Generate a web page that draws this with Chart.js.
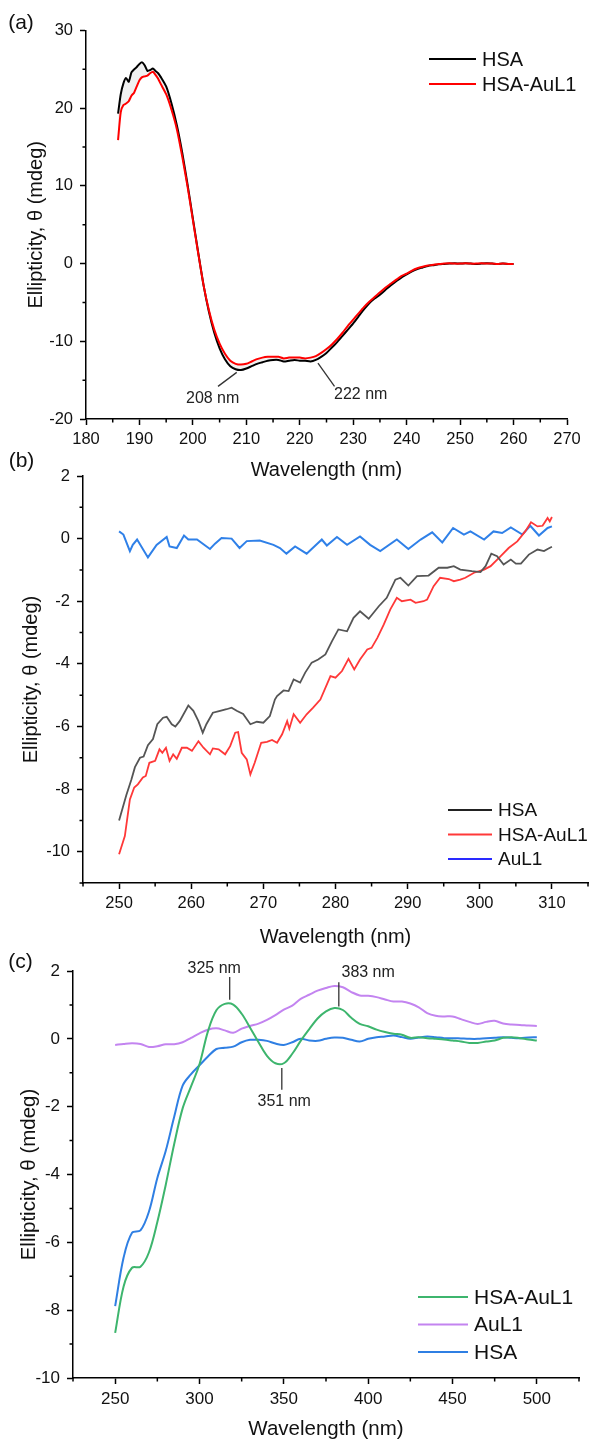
<!DOCTYPE html>
<html>
<head>
<meta charset="utf-8">
<title>CD spectra</title>
<script src="https://cdn.jsdelivr.net/npm/chart.js@4.4.1/dist/chart.umd.min.js"></script>
<style>
	html, body { margin: 0; padding: 0; background: #fff; }
	#page { position: relative; width: 590px; height: 1442px; }
	#page canvas { position: absolute; left: 0; top: 0; }
</style>
</head>
<body>
<div id="page">
	<canvas id="chartA" width="590" height="1442"></canvas>
	<canvas id="chartB" width="590" height="1442"></canvas>
	<canvas id="chartC" width="590" height="1442"></canvas>
</div>
<script>
// ---- panel (a): far-UV CD ----
const aWave = [186,186.5,187,187.5,188,188.5,189,189.5,190,190.5,191,191.5,192,192.5,193,193.5,194,
	195,196,197,198,199,200,201,202,203,204,205,206,207,208,209,210,211,212,213,214,
	215,216,217,218,219,220,221,222,223,224,225,226,227,228,229,230,231,232,233,234,
	235,236,237,238,239,240,241,242,243,244,245,246,247,248,249,250,251,252,253,254,
	255,256,257,258,259,260];
const aHsa = [19.3,21.8,23.2,23.9,23.4,24.6,25.0,25.3,25.7,25.9,25.5,24.8,24.9,25.1,24.8,24.5,24.0,
	22.8,20.6,17.8,14.3,10.2,5.8,1.4,-2.8,-6.2,-8.9,
	-10.9,-12.3,-13.2,-13.6,-13.7,-13.5,-13.2,-12.9,-12.7,-12.5,
	-12.4,-12.4,-12.6,-12.5,-12.4,-12.5,-12.5,-12.6,-12.4,-12.0,
	-11.5,-10.8,-10.1,-9.3,-8.5,-7.7,-6.8,-5.9,-5.1,-4.5,
	-4.0,-3.4,-2.8,-2.3,-1.8,-1.4,-1.0,-0.7,-0.5,-0.3,
	-0.2,-0.1,-0.05,0.0,0.05,0.0,0.05,0.0,-0.05,0.0,
	0.05,0.0,-0.05,0.0,-0.05,-0.05];
const aHsaAuL1 = [15.9,19.5,20.4,20.6,20.9,21.6,22.0,22.8,23.6,24.0,24.1,24.2,24.5,24.7,24.3,23.8,23.1,
	21.8,19.8,17.3,13.8,9.9,5.6,1.3,-2.8,-6.0,-8.5,
	-10.3,-11.6,-12.5,-12.9,-13.0,-12.9,-12.6,-12.3,-12.1,-12.0,
	-12.0,-12.0,-12.2,-12.1,-12.1,-12.1,-12.2,-12.1,-11.9,-11.5,
	-11.0,-10.4,-9.7,-8.9,-8.0,-7.2,-6.4,-5.6,-4.9,-4.3,
	-3.7,-3.1,-2.6,-2.1,-1.6,-1.3,-0.9,-0.6,-0.4,-0.25,
	-0.15,-0.05,0.0,0.05,0.0,0.0,0.05,0.0,0.0,0.05,
	0.0,0.0,-0.05,0.0,-0.05,-0.05];
const aXTicks = [180,190,200,210,220,230,240,250,260,270];
const aXMinor = [185,195,205,215,225,235,245,255,265];
const aYTicks = [-20,-10,0,10,20,30];
const aYMinor = [-15,-5,5,15,25];

// ---- panel (b): near-UV CD ----
const bHsaNm = [250,251,251.7,252.2,252.9,253.4,254,254.7,255.3,256.1,256.6,257.3,257.8,258.4,259.6,260.3,261,261.6,262.1,263,
	264,264.9,265.6,266.3,267.2,268.2,269.1,270,270.9,271.6,271.9,272.8,273.5,274.2,275.1,275.8,276.7,277.6,278.6,279.5,
	280.4,281.6,282.5,283.4,284.6,286,287.1,288.3,289,290.1,291.3,292.9,294.3,295.5,296.4,297.3,298.9,300.1,300.8,301.6,
	302.4,303.3,304.3,305,305.7,306.8,308,308.9,309.4,310];
const bHsa = [-9.0,-8.2,-7.7,-7.3,-7.0,-6.96,-6.6,-6.4,-5.93,-5.72,-5.69,-5.93,-6.0,-5.83,-5.33,-5.5,-5.83,-6.2,-5.93,-5.56,
	-5.5,-5.45,-5.4,-5.5,-5.6,-5.93,-5.85,-5.88,-5.67,-5.14,-5.03,-4.85,-4.87,-4.5,-4.6,-4.28,-3.96,-3.86,-3.7,-3.28,
	-2.9,-2.96,-2.53,-2.32,-2.56,-2.16,-1.89,-1.31,-1.25,-1.5,-1.2,-1.18,-0.93,-0.93,-0.88,-0.99,-1.04,-1.07,-0.88,-0.48,
	-0.56,-0.83,-0.67,-0.8,-0.8,-0.51,-0.35,-0.4,-0.33,-0.26];
const bMixNm = [250,250.8,251.5,252.1,252.6,253.3,253.7,254.2,255,255.6,256,256.5,257,257.5,258,258.7,259.4,260.1,261,261.7,
	262.6,263,263.8,264.7,265.4,266.1,266.5,267,267.7,268.2,268.8,269.7,270.5,271.2,271.9,272.6,273.3,273.6,274.2,275.1,
	276,276.9,277.9,279.3,280,280.9,281.8,282.6,283.4,284.4,285,285.8,286.7,287.6,288.5,289.2,290.4,291.1,292.2,292.7,
	293.6,294.5,295.7,296.4,297.3,298,299.2,300.6,301.5,302.9,304,305.2,306.3,307.1,308,308.7,309.4,309.7,310];
const bMix = [-10.08,-9.5,-8.33,-7.95,-7.85,-7.63,-7.58,-7.16,-7.1,-6.73,-6.84,-6.68,-7.1,-6.89,-7.03,-6.68,-6.68,-6.78,-6.47,-6.68,
	-6.89,-6.7,-6.73,-6.89,-6.63,-6.2,-6.18,-6.84,-7.05,-7.53,-7.16,-6.52,-6.49,-6.43,-6.52,-6.25,-5.83,-6.07,-5.61,-5.88,
	-5.61,-5.4,-5.14,-4.39,-4.44,-4.23,-3.84,-4.18,-3.86,-3.54,-3.49,-3.17,-2.74,-2.26,-1.89,-2.0,-1.95,-2.05,-2.0,-1.95,
	-1.52,-1.25,-1.29,-1.36,-1.31,-1.25,-1.09,-0.99,-0.88,-0.56,-0.3,-0.09,0.23,0.52,0.39,0.41,0.66,0.55,0.69];
const bAuNm = [250,250.6,251.5,251.9,252.5,254,255.2,256.6,257,258,259,259.6,260.8,262.6,263.3,264.2,265.6,266.7,267.7,269.5,
	271.4,272.3,273.2,274.4,276,278.1,278.8,280.2,281.6,283.4,284.8,286.2,288.5,290.1,291.8,293.4,294.8,296.3,297.8,298.7,
	300.6,301.9,303.1,304.3,305.9,307,308.2,309.4,310];
const bAu = [0.23,0.13,-0.4,-0.2,-0.03,-0.6,-0.2,0.05,-0.25,-0.3,0.1,-0.03,-0.03,-0.33,-0.16,0.02,0.0,-0.3,-0.08,-0.06,
	-0.2,-0.3,-0.48,-0.25,-0.48,-0.03,-0.22,0.05,-0.2,0.07,-0.2,-0.4,-0.03,-0.33,-0.03,0.2,-0.12,0.34,0.13,0.23,
	-0.03,0.23,0.18,0.36,0.13,0.41,0.1,0.34,0.39];
const bXTicks = [250,260,270,280,290,300,310];
const bXMinor = [245,255,265,275,285,295,305,315];
const bYTicks = [-10,-8,-6,-4,-2,0,2];
const bYMinor = [-11,-9,-7,-5,-3,-1,1];

// ---- panel (c): visible CD ----
const cWave = [250,255,260,265,270,275,280,285,290,295,300,305,310,315,320,325,330,335,340,345,
	350,355,360,365,370,375,380,385,390,395,400,405,410,415,420,425,430,435,440,445,
	450,455,460,465,470,475,480,485,490,495,500];
const cMix = [-8.67,-7.3,-6.75,-6.72,-6.3,-5.4,-4.3,-3.1,-2.05,-1.4,-0.75,0.22,0.84,1.03,1.01,0.74,0.33,-0.1,-0.5,-0.72,
	-0.72,-0.44,-0.06,0.28,0.6,0.81,0.91,0.85,0.62,0.44,0.37,0.27,0.2,0.15,0.12,0.03,0.05,0.02,0.0,-0.02,
	-0.05,-0.08,-0.12,-0.12,-0.08,-0.05,0.03,0.05,0.02,-0.02,-0.05];
const cAu = [-0.18,-0.15,-0.13,-0.15,-0.24,-0.22,-0.16,-0.16,-0.1,0.03,0.16,0.27,0.31,0.25,0.18,0.3,0.38,0.45,0.56,0.7,
	0.86,0.98,1.18,1.3,1.42,1.5,1.56,1.52,1.38,1.28,1.27,1.23,1.16,1.1,1.1,1.04,0.93,0.76,0.68,0.66,
	0.66,0.58,0.5,0.44,0.5,0.53,0.45,0.42,0.41,0.39,0.38];
const cHsa = [-7.88,-6.45,-5.72,-5.65,-5.1,-4.1,-3.3,-2.3,-1.38,-1.04,-0.78,-0.52,-0.3,-0.26,-0.23,-0.1,-0.03,-0.03,-0.06,-0.14,
	-0.18,-0.1,0.0,-0.05,-0.06,0.0,0.04,0.03,-0.03,-0.08,0.0,0.05,0.07,0.1,0.05,0.0,0.04,0.07,0.05,0.02,
	0.02,0.01,0.0,0.0,0.02,0.03,0.05,0.03,0.02,0.04,0.05];
const cXTicks = [250,300,350,400,450,500];
const cXMinor = [225,275,325,375,425,475,525];
const cYTicks = [-10,-8,-6,-4,-2,0,2];
const cYMinor = [-9,-7,-5,-3,-1,1];

const FONT = '"Liberation Sans", Arial, Helvetica, sans-serif';
Chart.defaults.font.family = FONT;
Chart.defaults.color = '#111';

function pts(xs, ys){
	return xs.map((x, i) => ({x: x, y: ys[i]}));
}

// small ticks between the labelled ones
const minorTicks = {
	id: 'minorTicks',
	afterDraw: (chart, args, opts) => {
		const {ctx, chartArea, scales} = chart;
		ctx.save();
		ctx.strokeStyle = '#000';
		ctx.lineWidth = 1.5;
		ctx.beginPath();
		opts.x.forEach(v => {
			const px = scales.x.getPixelForValue(v);
			ctx.moveTo(px, chartArea.bottom);
			ctx.lineTo(px, chartArea.bottom + opts.len);
		});
		opts.y.forEach(v => {
			const py = scales.y.getPixelForValue(v);
			ctx.moveTo(chartArea.left, py);
			ctx.lineTo(chartArea.left - opts.len, py);
		});
		ctx.stroke();
		ctx.restore();
	}
};

// peak labels with leader lines
const notes = {
	id: 'notes',
	afterDatasetsDraw: (chart, args, opts) => {
		const {ctx, scales} = chart;
		const x = scales.x, y = scales.y;
		ctx.save();
		ctx.font = '16px ' + FONT;
		ctx.fillStyle = '#222';
		ctx.strokeStyle = '#333';
		ctx.lineWidth = 1.3;
		ctx.textAlign = 'center';
		ctx.textBaseline = 'middle';
		opts.items.forEach(n => {
			ctx.beginPath();
			ctx.moveTo(x.getPixelForValue(n.from[0]), y.getPixelForValue(n.from[1]));
			ctx.lineTo(x.getPixelForValue(n.to[0]), y.getPixelForValue(n.to[1]));
			ctx.stroke();
			ctx.fillText(n.text, x.getPixelForValue(n.at[0]), y.getPixelForValue(n.at[1]));
		});
		ctx.restore();
	}
};

// legend box drawn inside the plot, plus the panel letter
const sideLegend = {
	id: 'sideLegend',
	afterDraw: (chart, args, opts) => {
		const {ctx} = chart;
		ctx.save();
		ctx.textBaseline = 'middle';
		ctx.textAlign = 'left';
		ctx.font = opts.size + 'px ' + FONT;
		ctx.lineWidth = 2;
		chart.data.datasets.forEach((ds, i) => {
			const yy = opts.top + i * opts.step;
			ctx.strokeStyle = ds.legendColor || ds.borderColor;
			ctx.beginPath();
			ctx.moveTo(opts.x1, yy);
			ctx.lineTo(opts.x2, yy);
			ctx.stroke();
			ctx.fillStyle = '#111';
			ctx.fillText(ds.label, opts.x2 + 6, yy + 1);
		});
		ctx.font = '21px ' + FONT;
		ctx.textAlign = 'center';
		ctx.fillText(opts.tag, opts.tagX, opts.tagY);
		ctx.restore();
	}
};

function axes(p){
	const tickFont = {size: p.tickSize};
	return {
		x: {
			type: 'linear', min: p.xMin, max: p.xMax,
			afterBuildTicks: s => { s.ticks = p.xTicks.map(v => ({value: v})); },
			afterFit: s => { s.height = p.xH; },
			ticks: {font: tickFont, color: '#111', padding: 5, maxRotation: 0, autoSkip: false, callback: v => String(v)},
			grid: {drawOnChartArea: false, tickLength: 6, tickWidth: 1.5, tickColor: '#000'},
			border: {display: true, color: '#000', width: 1.5},
			title: {display: true, text: 'Wavelength (nm)', font: {size: p.titleSize}, color: '#111', padding: {top: 0, bottom: 0}}
		},
		y: {
			type: 'linear', min: p.yMin, max: p.yMax,
			afterBuildTicks: s => { s.ticks = p.yTicks.map(v => ({value: v})); },
			afterFit: s => { s.width = p.yW; },
			ticks: {font: tickFont, color: '#111', padding: 7, autoSkip: false, callback: v => String(v)},
			grid: {drawOnChartArea: false, tickLength: 6, tickWidth: 1.5, tickColor: '#000'},
			border: {display: true, color: '#000', width: 1.5},
			title: {display: true, text: 'Ellipticity, θ (mdeg)', font: {size: p.titleSize}, color: '#111', padding: {top: p.yTitlePad, bottom: 0}}
		}
	};
}

function baseOptions(p, plugs){
	return {
		responsive: false,
		animation: false,
		devicePixelRatio: 1,
		events: [],
		layout: {padding: p.pad},
		elements: {point: {radius: 0}},
		scales: axes(p),
		plugins: Object.assign({legend: {display: false}, tooltip: {enabled: false}}, plugs)
	};
}

const chartA = new Chart(document.getElementById('chartA'), {
	type: 'line',
	data: {
		datasets: [
			{label: 'HSA', data: pts(aWave, aHsa), borderColor: '#000000', borderWidth: 2, tension: 0.2, order: 2},
			{label: 'HSA-AuL1', data: pts(aWave, aHsaAuL1), borderColor: '#ff0000', borderWidth: 2, tension: 0.2, order: 1,
				fill: {target: 0}, backgroundColor: 'rgba(185,185,185,0.22)'}
		]
	},
	options: baseOptions({
		pad: {left: 0, top: 30.5, right: 23, bottom: 960},
		xMin: 180, xMax: 270, xTicks: aXTicks, xH: 63,
		yMin: -20, yMax: 30, yTicks: aYTicks, yW: 86, yTitlePad: 24,
		tickSize: 16.5, titleSize: 20
	}, {
		filler: {drawTime: 'beforeDatasetsDraw'},
		minorTicks: {x: aXMinor, y: aYMinor, len: 3.5},
		notes: {items: [
			{text: '208 nm', at: [203.7, -17.4], from: [204.7, -15.8], to: [208.2, -14.0]},
			{text: '222 nm', at: [231.4, -16.8], from: [226.5, -15.8], to: [223.4, -12.8]}
		]},
		sideLegend: {x1: 429, x2: 476, top: 59, step: 25, size: 20, tag: '(a)', tagX: 21, tagY: 23}
	}),
	plugins: [minorTicks, notes, sideLegend]
});

const chartB = new Chart(document.getElementById('chartB'), {
	type: 'line',
	data: {
		datasets: [
			{label: 'HSA', data: pts(bHsaNm, bHsa), borderColor: '#555555', legendColor: '#222222', borderWidth: 1.8, order: 1},
			{label: 'HSA-AuL1', data: pts(bMixNm, bMix), borderColor: '#ff3838', borderWidth: 1.8, order: 2},
			{label: 'AuL1', data: pts(bAuNm, bAu), borderColor: '#2f80e8', legendColor: '#2a2aff', borderWidth: 2, order: 3}
		]
	},
	options: baseOptions({
		pad: {left: 0, top: 476, right: 2, bottom: 493},
		xMin: 245, xMax: 315, xTicks: bXTicks, xH: 66,
		yMin: -11, yMax: 2, yTicks: bYTicks, yW: 83, yTitlePad: 19,
		tickSize: 16.5, titleSize: 20
	}, {
		minorTicks: {x: bXMinor, y: bYMinor, len: 3.5},
		notes: {items: []},
		sideLegend: {x1: 448, x2: 492, top: 810, step: 24.5, size: 19, tag: '(b)', tagX: 21.5, tagY: 461}
	}),
	plugins: [minorTicks, notes, sideLegend]
});

const chartC = new Chart(document.getElementById('chartC'), {
	type: 'line',
	data: {
		datasets: [
			{label: 'HSA-AuL1', data: pts(cWave, cMix), borderColor: '#3db56d', borderWidth: 2, tension: 0.35, order: 1},
			{label: 'AuL1', data: pts(cWave, cAu), borderColor: '#c384f0', borderWidth: 2, tension: 0.35, order: 3},
			{label: 'HSA', data: pts(cWave, cHsa), borderColor: '#2f7fe3', borderWidth: 2, tension: 0.35, order: 2}
		]
	},
	options: baseOptions({
		pad: {left: 0, top: 971, right: 11, bottom: 0},
		xMin: 225, xMax: 525, xTicks: cXTicks, xH: 64,
		yMin: -10, yMax: 2, yTicks: cYTicks, yW: 73, yTitlePad: 17,
		tickSize: 17, titleSize: 20.5
	}, {
		minorTicks: {x: cXMinor, y: cYMinor, len: 3.5},
		notes: {items: [
			{text: '325 nm', at: [308.7, 2.08], from: [317.9, 1.82], to: [317.9, 1.15]},
			{text: '383 nm', at: [400.0, 1.96], from: [382.6, 1.67], to: [382.6, 0.95]},
			{text: '351 nm', at: [350.2, -1.86], from: [348.8, -0.86], to: [348.8, -1.5]}
		]},
		sideLegend: {x1: 418, x2: 468, top: 1297, step: 27.5, size: 21, tag: '(c)', tagX: 20.5, tagY: 962}
	}),
	plugins: [minorTicks, notes, sideLegend]
});
</script>
</body>
</html>
